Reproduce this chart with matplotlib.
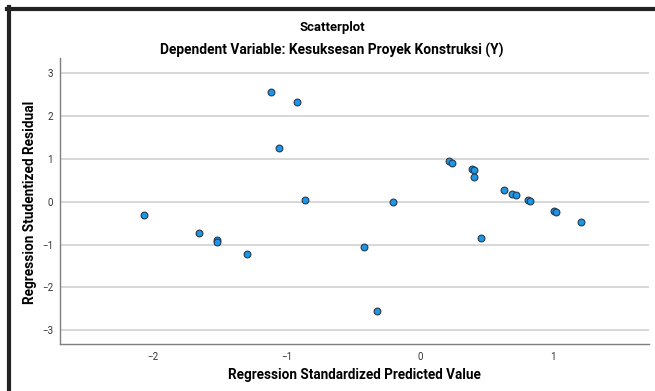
import matplotlib.pyplot as plt
from matplotlib.lines import Line2D

# standardized predicted value (x) and studentized residual (y)
pred = [-2.07, -1.66, -1.52, -1.52, -1.30, -1.12, -0.92, -1.06, -0.86,
        0.22, 0.24, 0.39, 0.41, 0.41, 0.63, 0.69, 0.72, 0.81, 0.83,
        1.01, 1.02, 1.21, 0.46, -0.20, -0.42, -0.32]
resid = [-0.30, -0.73, -0.90, -0.93, -1.21, 2.56, 2.33, 1.26, 0.04,
         0.95, 0.91, 0.76, 0.74, 0.57, 0.27, 0.19, 0.17, 0.04, 0.01,
         -0.21, -0.23, -0.48, -0.85, -0.01, -1.06, -2.55]
xticks = [-2, -1, 0, 1]
yticks = [-3, -2, -1, 0, 1, 2, 3]

plt.rcParams['font.family'] = ['Roboto', 'DejaVu Sans']

W, H = 655, 391
fig = plt.figure(figsize=(W / 100, H / 100), dpi=100)
ax = fig.add_axes([60 / W, 1 - 344 / H, (649 - 60) / W, (344 - 58) / H])

ax.set_xlim(-2.70, 1.72)
ax.set_ylim(-3.32, 3.36)
ax.set_yticks(yticks)
ax.set_xticks(xticks)
ax.grid(axis='y', color='#d4d4d4', linewidth=1.3)
ax.set_axisbelow(True)
ax.scatter(pred, resid, s=24, facecolor='#1e96e6', edgecolor='#2b3a4a',
           linewidth=0.8, zorder=3)

for side in ['top', 'right']:
    ax.spines[side].set_visible(False)
for side in ['left', 'bottom']:
    ax.spines[side].set_color('#7f7f7f')
    ax.spines[side].set_linewidth(1.0)
ax.tick_params(length=0, labelsize=7, labelcolor='#333333', pad=5)
ax.tick_params(axis='x', pad=6)

bold = dict(ha='center', va='center', fontsize=11, fontweight='bold')
xl = fig.text(354 / W, 1 - 375 / H, 'Regression Standardized Predicted Value', **bold)
yl = fig.text(30 / W, 1 - 202 / H, 'Regression Studentized Residual',
              rotation=90, **bold)
t1 = fig.text(332 / W, 1 - 27 / H, 'Scatterplot', **bold)
t2 = fig.text(332 / W, 1 - 50 / H,
              'Dependent Variable: Kesuksesan Proyek Konstruksi (Y)', **bold)

# fit text sizes to the widths seen in the reference (condensed font there)
fig.canvas.draw()
r = fig.canvas.get_renderer()
for txt, target, vertical in [(t1, 66, False), (t2, 341, False),
                              (xl, 253, False), (yl, 203, True)]:
    bb = txt.get_window_extent(r)
    size = bb.height if vertical else bb.width
    txt.set_fontsize(txt.get_fontsize() * target / size)

# dark frame on the left and top edges
fig.add_artist(Line2D([9 / W, 9 / W], [0, 1 - 7 / H], color='#222222',
                      linewidth=3, transform=fig.transFigure))
fig.add_artist(Line2D([7 / W, 1], [1 - 9 / H, 1 - 9 / H], color='#222222',
                      linewidth=3, transform=fig.transFigure))

fig.savefig('out.png', dpi=100)
